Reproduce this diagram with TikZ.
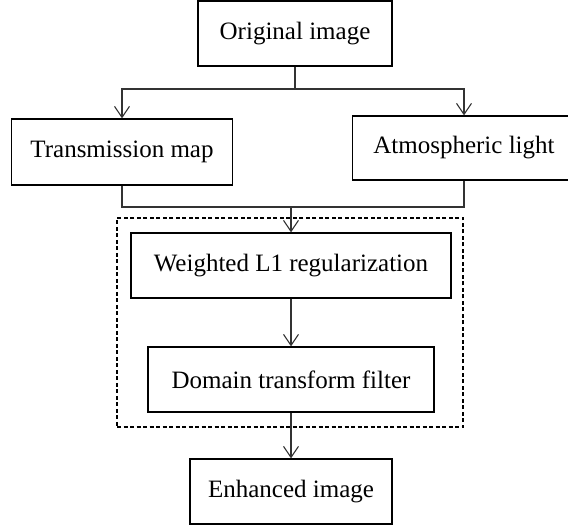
\documentclass[tikz,border=0pt]{standalone}
\usepackage{fontspec}
\setmainfont{Liberation Serif}
\usetikzlibrary{arrows.meta}
\begin{document}
\begin{tikzpicture}[x=1pt,y=-1pt,
  box/.style={draw=black,line width=1.3pt,fill=white,inner sep=0pt,
    font=\fontsize{25}{30}\selectfont},
  conn/.style={draw=black!80,line width=1.4pt},
  arr/.style={conn,-{Straight Barb[length=11pt,width=15pt,line width=1.1pt]}}]
\useasboundingbox (0,0) rectangle (568,529);
\node[box,minimum width=194pt,minimum height=65pt] (orig) at (295,33.5) {Original image};
\node[box,minimum width=221pt,minimum height=66pt] (trans) at (122,152) {Transmission map};
\node[box,minimum width=223pt,minimum height=64pt] (atmos) at (464,148) {Atmospheric light};
\node[draw=black,line width=1.1pt,dashed,dash pattern=on 4pt off 2.5pt,minimum width=346pt,minimum height=209pt,inner sep=0pt] (group) at (290,322.5) {};
\node[box,minimum width=320pt,minimum height=65pt] (weighted) at (291,265.5) {Weighted L1 regularization};
\node[box,minimum width=286pt,minimum height=65pt] (domain) at (291,379.5) {Domain transform filter};
\node[box,minimum width=202pt,minimum height=65pt] (enh) at (291,491.5) {Enhanced image};
\coordinate (j1) at (295,89);
\coordinate (j2) at (291,207);
\draw[conn] (orig.south) -- (j1);
\draw[arr] (j1) -| (trans.north);
\draw[arr] (j1) -| (atmos.north);
\draw[conn] (trans.south) |- (j2);
\draw[conn] (atmos.south) |- (j2);
\draw[arr] (j2) -- (weighted.north);
\draw[arr] (weighted.south) -- (domain.north);
\draw[arr] (domain.south) -- (enh.north);
\end{tikzpicture}
\end{document}
